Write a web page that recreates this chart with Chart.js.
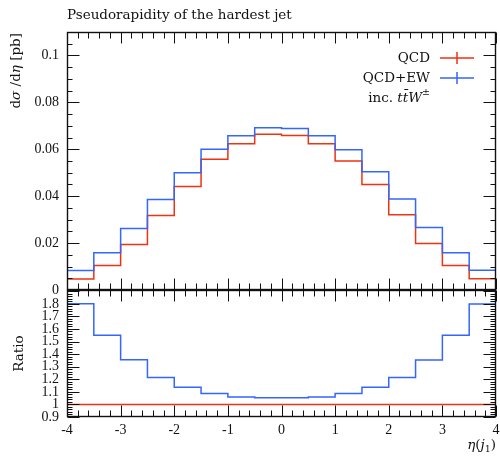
<!DOCTYPE html>
<html>
<head>
<meta charset="utf-8">
<script src="https://cdn.jsdelivr.net/npm/chart.js@4.4.0/dist/chart.umd.min.js"></script>
<style>
  html, body { margin: 0; padding: 0; background: #fff; }
  #wrap { position: relative; width: 500px; height: 458px; }
  #wrap canvas { position: absolute; left: 0; }
  #mainChart { top: 0; }
  #ratioChart { top: 280px; }
</style>
</head>
<body>
<div id="wrap">
  <canvas id="mainChart" width="500" height="300"></canvas>
  <canvas id="ratioChart" width="500" height="178"></canvas>
</div>
<script>
// bin edges of eta(j1), 16 bins of 0.5
const binEdges = [-4, -3.5, -3, -2.5, -2, -1.5, -1, -0.5, 0, 0.5, 1, 1.5, 2, 2.5, 3, 3.5, 4];

// dsigma/deta [pb]
const qcd   = [0.0047, 0.0104, 0.0194, 0.0318, 0.0441, 0.0557, 0.0624, 0.0664,
               0.0659, 0.0624, 0.0550, 0.0450, 0.0321, 0.0198, 0.0104, 0.0048];
const qcdEw = [0.0083, 0.0159, 0.0262, 0.0386, 0.0500, 0.0600, 0.0658, 0.0692,
               0.0689, 0.0658, 0.0598, 0.0504, 0.0388, 0.0266, 0.0159, 0.0084];

// ratio to QCD
const ratioQcd   = [1, 1, 1, 1, 1, 1, 1, 1, 1, 1, 1, 1, 1, 1, 1, 1];
const ratioQcdEw = [1.800, 1.551, 1.355, 1.214, 1.136, 1.086, 1.060, 1.053,
                    1.053, 1.060, 1.086, 1.136, 1.214, 1.353, 1.551, 1.798];

const legendLabels = ['QCD', 'QCD+EW'];

const RED = '#EE3311';
const BLUE = '#3366FF';
const SERIF = '"DejaVu Serif", serif';
const TICK_FONT = { family: '"Liberation Serif", serif', size: 14 };

function histPoints(values) {
    const pts = values.map((v, i) => ({ x: binEdges[i], y: v }));
    pts.push({ x: binEdges[binEdges.length - 1], y: values[values.length - 1] });
    return pts;
}

function histDataset(label, values, color) {
    return {
        label: label,
        data: histPoints(values),
        borderColor: color,
        borderWidth: 1.5,
        pointRadius: 0,
        pointHoverRadius: 0,
        stepped: 'before',
        fill: false
    };
}

// draw text made of several pieces with their own fonts
function drawRich(ctx, parts, x, y, align) {
    let total = 0;
    parts.forEach(p => {
        ctx.font = p.font;
        p.w = ctx.measureText(p.text).width;
        total += p.w;
    });
    let cx = align === 'right' ? x - total : align === 'center' ? x - total / 2 : x;
    ctx.textAlign = 'left';
    parts.forEach(p => {
        ctx.font = p.font;
        ctx.fillText(p.text, cx, y + (p.dy || 0));
        cx += p.w;
    });
}

// frame with inward minor/major ticks on all four sides
const frameTicks = {
    id: 'frameTicks',
    afterDraw(chart, args, opts) {
        const { ctx, chartArea: a, scales: { x, y } } = chart;
        const L = Math.round(a.left) + 0.5, R = Math.round(a.right) - 0.5;
        const T = Math.round(a.top) + 0.5, B = Math.round(a.bottom) - 0.5;
        ctx.save();
        ctx.strokeStyle = '#111';
        ctx.lineWidth = 1;
        ctx.beginPath();
        const nx = Math.round((x.max - x.min) / opts.xMinor);
        for (let k = 0; k <= nx; k++) {
            const px = Math.round(x.getPixelForValue(x.min + k * opts.xMinor)) + 0.5;
            const len = k % opts.xEvery === 0 ? 11 : 6;
            ctx.moveTo(px, T); ctx.lineTo(px, T + len);
            ctx.moveTo(px, B); ctx.lineTo(px, B - len);
        }
        for (let k = 0; ; k++) {
            const v = opts.yStart + k * opts.yMinor;
            if (v > y.max + 1e-9) break;
            if (v < y.min - 1e-9) continue;
            const py = Math.round(y.getPixelForValue(v)) + 0.5;
            const len = k % opts.yEvery === 0 ? 12 : 5;
            ctx.moveTo(L, py); ctx.lineTo(L + len, py);
            ctx.moveTo(R, py); ctx.lineTo(R - len, py);
        }
        ctx.stroke();
        ctx.lineWidth = 1.4;
        ctx.strokeRect(L, T, R - L, B - T);
        ctx.restore();
    }
};

const mainTexts = {
    id: 'mainTexts',
    afterDraw(chart) {
        const { ctx, chartArea: a } = chart;
        const f = '13.5px ' + SERIF, fi = 'italic 13.5px ' + SERIF;
        ctx.save();
        ctx.fillStyle = '#111';
        ctx.textBaseline = 'alphabetic';
        ctx.font = f;
        ctx.textAlign = 'left';
        ctx.fillText('Pseudorapidity of the hardest jet', a.left, 19);

        // y axis title
        ctx.save();
        ctx.translate(20, 33);
        ctx.rotate(-Math.PI / 2);
        drawRich(ctx, [
            { text: 'd', font: f }, { text: 'σ', font: fi }, { text: ' /d', font: f },
            { text: 'η', font: fi }, { text: ' [pb]', font: f }
        ], 0, 0, 'right');
        ctx.restore();

        // legend
        const tx = a.right - 66, lx0 = a.right - 56, lx1 = a.right - 22;
        const colors = [RED, BLUE];
        ctx.textBaseline = 'middle';
        legendLabels.forEach((lab, i) => {
            const ly = a.top + 26 + i * 20;
            ctx.fillStyle = '#111';
            ctx.font = f;
            ctx.textAlign = 'right';
            ctx.fillText(lab, tx, ly);
            ctx.strokeStyle = colors[i];
            ctx.lineWidth = 1.5;
            ctx.beginPath();
            ctx.moveTo(lx0, ly); ctx.lineTo(lx1, ly);
            const cx = (lx0 + lx1) / 2;
            ctx.moveTo(cx, ly - 6); ctx.lineTo(cx, ly + 6);
            ctx.stroke();
        });
        ctx.fillStyle = '#111';
        drawRich(ctx, [
            { text: 'inc. ', font: f }, { text: 'tt̄W', font: fi },
            { text: '±', font: '9.5px ' + SERIF, dy: -5 }
        ], tx, a.top + 66, 'right');
        ctx.restore();
    }
};

const ratioTexts = {
    id: 'ratioTexts',
    afterDraw(chart) {
        const { ctx, chartArea: a } = chart;
        const f = '13.5px ' + SERIF, fi = 'italic 13.5px ' + SERIF;
        ctx.save();
        ctx.fillStyle = '#111';
        ctx.textBaseline = 'middle';
        ctx.save();
        ctx.translate(19, (a.top + a.bottom) / 2);
        ctx.rotate(-Math.PI / 2);
        drawRich(ctx, [{ text: 'Ratio', font: f }], 0, 0, 'center');
        ctx.restore();
        ctx.textBaseline = 'alphabetic';
        drawRich(ctx, [
            { text: 'η', font: fi }, { text: '(', font: f }, { text: 'j', font: fi },
            { text: '1', font: '9.5px ' + SERIF, dy: 3 }, { text: ')', font: f }
        ], a.right, 169, 'right');
        ctx.restore();
    }
};

// fixed axis sizes, no label overflow padding, so both panels line up
function yAxisFit(scale) {
    scale.width = 67;
    scale.paddingTop = 0;
    scale.paddingBottom = 0;
}
function xAxisFit(scale) {
    scale.height = 41;
    scale.paddingLeft = 0;
    scale.paddingRight = 0;
}

new Chart(document.getElementById('mainChart'), {
    type: 'line',
    data: {
        datasets: [
            histDataset('QCD+EW', qcdEw, BLUE),
            histDataset('QCD', qcd, RED)
        ]
    },
    options: {
        responsive: false,
        animation: false,
        events: [],
        layout: { padding: { top: 32, right: 4, bottom: 10, left: 0 } },
        plugins: {
            legend: { display: false },
            tooltip: { enabled: false },
            frameTicks: { xMinor: 0.2, xEvery: 5, yStart: 0, yMinor: 0.005, yEvery: 4 }
        },
        scales: {
            x: { type: 'linear', min: -4, max: 4, display: false },
            y: {
                min: 0, max: 0.11,
                afterFit: yAxisFit,
                grid: { display: false, drawTicks: false },
                border: { display: false },
                ticks: {
                    stepSize: 0.02, includeBounds: false, autoSkip: false,
                    padding: 8, color: '#111', font: TICK_FONT,
                    callback: v => String(parseFloat(v.toFixed(3)))
                }
            }
        }
    },
    plugins: [frameTicks, mainTexts]
});

new Chart(document.getElementById('ratioChart'), {
    type: 'line',
    data: {
        datasets: [
            histDataset('QCD+EW', ratioQcdEw, BLUE),
            histDataset('QCD', ratioQcd, RED)
        ]
    },
    options: {
        responsive: false,
        animation: false,
        events: [],
        layout: { padding: { top: 10, right: 4, bottom: 0, left: 0 } },
        plugins: {
            legend: { display: false },
            tooltip: { enabled: false },
            frameTicks: { xMinor: 0.2, xEvery: 5, yStart: 0.9, yMinor: 0.02, yEvery: 5 }
        },
        scales: {
            x: {
                type: 'linear', min: -4, max: 4,
                afterFit: xAxisFit,
                grid: { display: false, drawTicks: false },
                border: { display: false },
                ticks: {
                    stepSize: 1, padding: 5, color: '#111', font: TICK_FONT,
                    maxRotation: 0,
                    callback: v => String(v)
                }
            },
            y: {
                min: 0.9, max: 1.91,
                afterFit: yAxisFit,
                grid: { display: false, drawTicks: false },
                border: { display: false },
                ticks: {
                    stepSize: 0.1, includeBounds: false, autoSkip: false,
                    padding: 8, color: '#111', font: TICK_FONT,
                    callback: v => v > 1.85 ? '' : String(Math.round(v * 10) / 10)
                }
            }
        }
    },
    plugins: [frameTicks, ratioTexts]
});
</script>
</body>
</html>
